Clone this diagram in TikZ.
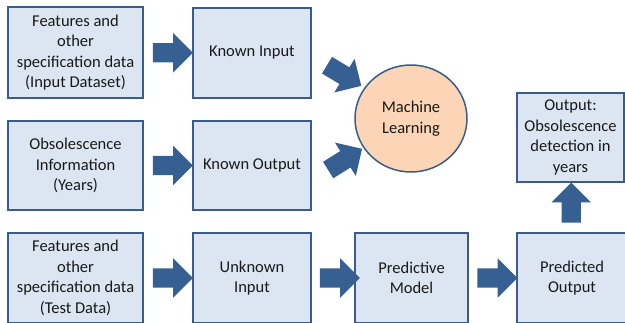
\documentclass[tikz,border=0pt]{standalone}
\usepackage{fontspec}
\setmainfont{Carlito}
\usetikzlibrary{shapes.arrows,shapes.geometric,calc}
\definecolor{boxfill}{RGB}{220,230,242}
\definecolor{boxline}{RGB}{56,93,138}
\definecolor{arrowfill}{RGB}{55,96,146}
\definecolor{mlfill}{RGB}{251,213,181}
\begin{document}
\begin{tikzpicture}[x=1pt,y=-1pt,
  every node/.style={font=\fontsize{16.5}{20.5}\selectfont, text=black!90},
  databox/.style={draw=boxline, fill=boxfill, line width=1.5pt, align=center,
    inner sep=0pt},
  blockarrow/.style={single arrow, fill=arrowfill, draw=none,
    inner xsep=0pt, inner ysep=9.5pt,
    minimum height=40pt, single arrow head extend=10pt,
    single arrow head indent=0pt}]
\useasboundingbox (0,0) rectangle (625,322);
\clip (0,0) rectangle (625,322);

% data boxes
\node[databox, minimum width=135pt, minimum height=91pt] (f1) at (75.5,52.5)
  {Features and\\other\\specification data\\(Input Dataset)};
\node[databox, minimum width=118pt, minimum height=90pt] (ki) at (252,53)
  {Known Input};
\node[databox, minimum width=135pt, minimum height=89pt] (ob) at (75.5,165.5)
  {Obsolescence\\Information\\(Years)};
\node[databox, minimum width=118pt, minimum height=89pt] (ko) at (252,165.5)
  {Known Output};
\node[databox, minimum width=135pt, minimum height=90pt] (f2) at (75.5,278)
  {Features and\\other\\specification data\\(Test Data)};
\node[databox, minimum width=118pt, minimum height=90pt] (ui) at (252,278)
  {Unknown\\Input};
\node[databox, minimum width=113pt, minimum height=90pt] (pm) at (411.5,278)
  {Predictive\\Model};
\node[databox, minimum width=110pt, minimum height=90pt] (po) at (572,278)
  {Predicted\\Output};
\node[databox, minimum width=107pt, minimum height=89pt] (out) at (570.5,137.5)
  {Output:\\Obsolescence\\detection in\\years};

% learning stage
\node[ellipse, draw=boxline, fill=mlfill, line width=1.5pt, align=center,
  minimum width=112pt, minimum height=107pt] (ml) at (411,118.5)
  {Machine\\Learning};

% block arrows
\node[blockarrow] (a1) at ($(f1.east)!0.5!(ki.west)$) {};
\node[blockarrow] (a2) at ($(ob.east)!0.5!(ko.west)$) {};
\node[blockarrow] (a3) at ($(f2.east)!0.5!(ui.west)$) {};
\node[blockarrow] (a4) at ($(ui.east)!0.5!(pm.west)+(2,0)$) {};
\node[blockarrow] (a5) at ($(pm.east)!0.5!(po.west)$) {};
\node[blockarrow, rotate=90] (a6) at ($(po.north)!0.5!(out.south)$) {};
\node[blockarrow, rotate=-31] (a7) at (340,73) {};
\node[blockarrow, rotate=32] (a8) at (341,162) {};
\end{tikzpicture}
\end{document}
